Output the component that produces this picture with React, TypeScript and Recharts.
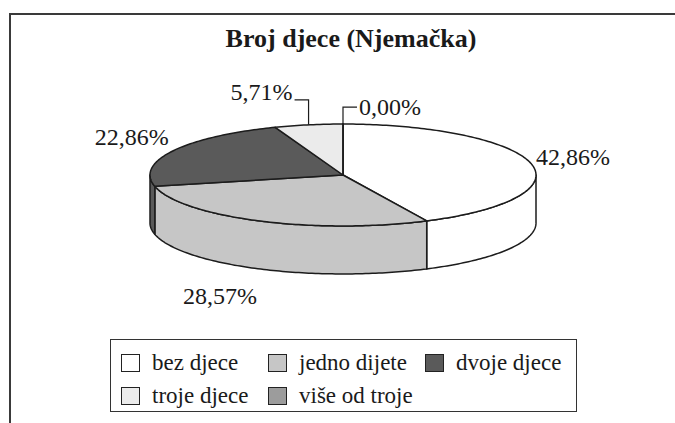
import React from 'react';
import { PieChart, Pie, Cell, Legend } from 'recharts';

const categories = ['bez djece', 'jedno dijete', 'dvoje djece', 'troje djece', 'više od troje'];
const shares = [42.86, 28.57, 22.86, 5.71, 0];
const fills = ['#ffffff', '#c6c6c6', '#5a5a5a', '#ebebeb', '#9c9c9c'];

const data = categories.map((name, i) => ({ name, value: shares[i] }));

const FONT = '"Liberation Serif", "Times New Roman", serif';
const TILT = 0.264; // ry / rx of the flattened top
const DEPTH = 48;
const RAD = Math.PI / 180;
const INK = '#1c1c1c';

const arc = (cx, cy, rx, ry, from, to, dy = 0) => {
  const n = Math.max(2, Math.ceil(Math.abs(from - to)));
  const pts = [];
  for (let k = 0; k <= n; k++) {
    const a = (from + ((to - from) * k) / n) * RAD;
    pts.push(`${(cx + rx * Math.cos(a)).toFixed(2)},${(cy - ry * Math.sin(a) + dy).toFixed(2)}`);
  }
  return pts;
};

const Slice3D = (props) => {
  const { cx, cy, outerRadius, startAngle, endAngle, fill } = props;
  const rx = outerRadius;
  const ry = outerRadius * TILT;
  const hi = Math.max(startAngle, endAngle);
  const lo = Math.min(startAngle, endAngle);
  const top = `M${cx},${cy} L${arc(cx, cy, rx, ry, hi, lo).join(' L')} Z`;
  // visible wall = front half of the rim (sin < 0)
  const s1 = Math.min(hi, 0);
  const s2 = Math.max(lo, -180);
  let side = null;
  if (s1 > s2) {
    const upper = arc(cx, cy, rx, ry, s1, s2);
    const lower = arc(cx, cy, rx, ry, s2, s1, DEPTH);
    side = `M${[...upper, ...lower].join(' L')} Z`;
  }
  return (
    <g>
      {side && <path d={side} fill={fill} stroke={INK} strokeWidth={1.5} strokeLinejoin="round" />}
      <path d={top} fill={fill} stroke={INK} strokeWidth={1.5} strokeLinejoin="round" />
    </g>
  );
};

const renderLabel = (props) => {
  const { cx, cy, outerRadius, midAngle, value } = props;
  const rx = outerRadius;
  const ry = outerRadius * TILT;
  const c = Math.cos(midAngle * RAD);
  const s = Math.sin(midAngle * RAD);
  const px = cx + rx * c;
  const py = cy - ry * s;
  const text = `${Number(value).toFixed(2).replace('.', ',')}%`;
  const right = c > -1e-6;
  const style = { fontFamily: FONT, fontSize: 24, fill: '#1a1a1a' };

  if (value < 10) {
    // small slices get a leader line going up
    const ly = py - (right ? 17 : 25);
    const lx = px + (right ? 14 : -14);
    return (
      <g>
        <polyline points={`${px},${py} ${px},${ly} ${lx},${ly}`} fill="none" stroke={INK} strokeWidth={1.2} />
        <text x={lx + (right ? 2 : -2)} y={right ? ly : ly - 8} dy="0.35em" textAnchor={right ? 'start' : 'end'} style={style}>
          {text}
        </text>
      </g>
    );
  }
  const ay = py + (s < 0 ? DEPTH : 0);
  return (
    <text x={px + c * 5} y={ay - s * 30} dy="0.35em" textAnchor={right ? 'start' : 'end'} style={style}>
      {text}
    </text>
  );
};

const renderLegend = () => (
  <div
    style={{
      boxSizing: 'border-box',
      width: 467,
      height: 73,
      border: '1.5px solid #333',
      padding: '8px 0 0 10px',
      display: 'grid',
      gridTemplateColumns: '147px 157px auto',
      rowGap: 2,
      fontFamily: FONT,
      fontSize: 23,
      lineHeight: '26px',
      color: '#1a1a1a',
    }}
  >
    {categories.map((name, i) => (
      <div key={name} style={{ display: 'flex', alignItems: 'center' }}>
        <span
          style={{
            boxSizing: 'border-box',
            width: 19,
            height: 18,
            border: '1.5px solid #222',
            background: fills[i],
            marginRight: 12,
            flex: 'none',
          }}
        />
        <span style={{ whiteSpace: 'nowrap' }}>{name}</span>
      </div>
    ))}
  </div>
);

export default function App() {
  return (
    <div style={{ position: 'fixed', left: 0, top: 0, width: 675, height: 423, overflow: 'hidden', background: '#fff' }}>
      <div
        style={{
          position: 'absolute',
          left: 9,
          top: 13,
          width: 675,
          height: 420,
          borderLeft: '2px solid #3a3a3a',
          borderTop: '2px solid #3a3a3a',
        }}
      />
      <div
        style={{
          position: 'absolute',
          left: 0,
          width: 702,
          top: 23,
          textAlign: 'center',
          fontFamily: FONT,
          fontWeight: 'bold',
          fontSize: 26,
          lineHeight: '32px',
          color: '#1a1a1a',
        }}
      >
        Broj djece (Njemačka)
      </div>
      <div style={{ position: 'absolute', left: 0, top: 0 }}>
        <PieChart width={675} height={423} margin={{ top: 0, right: 0, bottom: 0, left: 0 }}>
          <Pie
            data={data}
            dataKey="value"
            nameKey="name"
            cx={343}
            cy={175}
            outerRadius={193}
            startAngle={90}
            endAngle={-270}
            isAnimationActive={false}
            shape={Slice3D}
            label={renderLabel}
            labelLine={false}
          >
            {data.map((d, i) => (
              <Cell key={d.name} fill={fills[i]} />
            ))}
          </Pie>
          <Legend content={renderLegend} wrapperStyle={{ left: 110, top: 339, width: 467 }} />
        </PieChart>
      </div>
    </div>
  );
}
